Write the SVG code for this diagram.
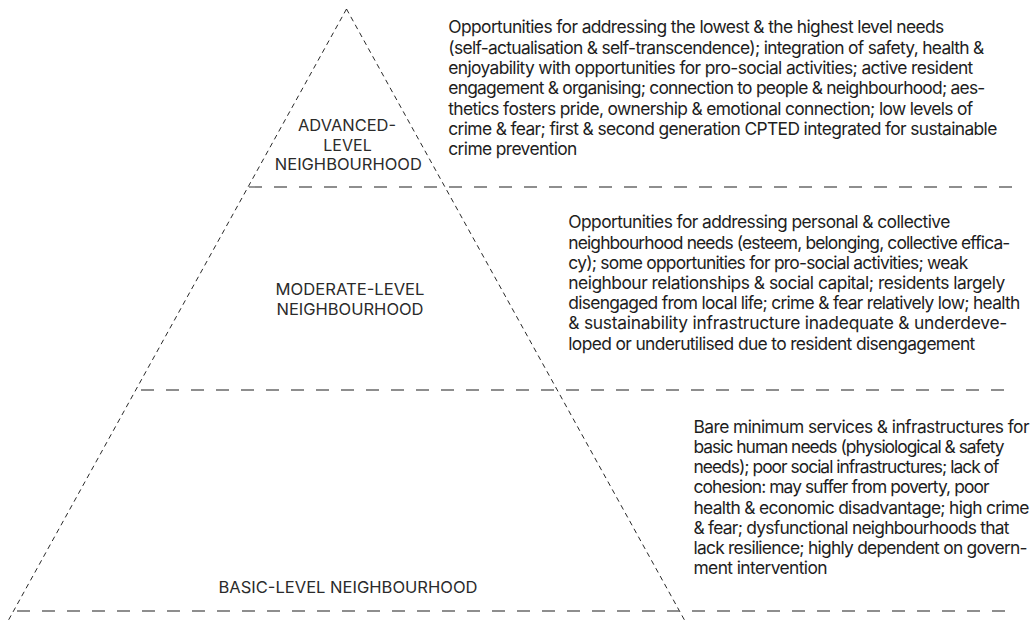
<svg xmlns="http://www.w3.org/2000/svg" width="1033" height="622" viewBox="0 0 1033 622">
<style>
.bg{fill:#ffffff}
.side{fill:none;stroke:#111;stroke-width:0.9;stroke-dasharray:5 4}
.div{fill:none;stroke:#6a6a6a;stroke-width:1.4;stroke-dasharray:13 12}
.lab{font-family:Inter,"Liberation Sans",sans-serif;font-size:16px;fill:#2b2b2b;text-anchor:middle}
.txt{font-family:Inter,"Liberation Sans",sans-serif;font-size:17.4px;fill:#1e1e1e}
</style>
<rect class="bg" x="0" y="0" width="1033" height="622"/>
<g id="connectors">
<path class="side" d="M346.5 9 L8 621"/>
<path class="side" d="M346.5 9 L685 621"/>
<path class="div" d="M249 187 H1013"/>
<path class="div" d="M141 390 H1013"/>
<path class="div" d="M17 611 H1013"/>
</g>
<g id="level-advanced">
<text class="lab" x="347" y="131" textLength="98" lengthAdjust="spacingAndGlyphs">ADVANCED-</text>
<text class="lab" x="347.5" y="150.5">LEVEL</text>
<text class="lab" x="348.3" y="170" textLength="147" lengthAdjust="spacingAndGlyphs">NEIGHBOURHOOD</text>
<text class="txt" x="448.3" y="33.3" textLength="496" lengthAdjust="spacing">Opportunities for addressing the lowest &amp; the highest level needs</text>
<text class="txt" x="448.3" y="53.6" textLength="536" lengthAdjust="spacing">(self-actualisation &amp; self-transcendence); integration of safety, health &amp;</text>
<text class="txt" x="448.3" y="73.9" textLength="525" lengthAdjust="spacing">enjoyability with opportunities for pro-social activities; active resident</text>
<text class="txt" x="448.3" y="94.2" textLength="537" lengthAdjust="spacing">engagement &amp; organising; connection to people &amp; neighbourhood; aes-</text>
<text class="txt" x="448.3" y="114.5" textLength="525" lengthAdjust="spacing">thetics fosters pride, ownership &amp; emotional connection; low levels of</text>
<text class="txt" x="448.3" y="134.8" textLength="549" lengthAdjust="spacing">crime &amp; fear; first &amp; second generation CPTED integrated for sustainable</text>
<text class="txt" x="448.3" y="155.1" textLength="129" lengthAdjust="spacing">crime prevention</text>
</g>
<g id="level-moderate">
<text class="lab" x="350" y="295" textLength="149" lengthAdjust="spacingAndGlyphs">MODERATE-LEVEL</text>
<text class="lab" x="350" y="315" textLength="147" lengthAdjust="spacingAndGlyphs">NEIGHBOURHOOD</text>
<text class="txt" x="568.3" y="228.3" textLength="382" lengthAdjust="spacing">Opportunities for addressing personal &amp; collective</text>
<text class="txt" x="568.3" y="248.5" textLength="442" lengthAdjust="spacing">neighbourhood needs (esteem, belonging, collective effica-</text>
<text class="txt" x="568.3" y="268.7" textLength="400" lengthAdjust="spacing">cy); some opportunities for pro-social activities; weak</text>
<text class="txt" x="568.3" y="288.9" textLength="437" lengthAdjust="spacing">neighbour relationships &amp; social capital; residents largely</text>
<text class="txt" x="568.3" y="309.1" textLength="452" lengthAdjust="spacing">disengaged from local life; crime &amp; fear relatively low; health</text>
<text class="txt" x="568.3" y="329.3" textLength="439" lengthAdjust="spacing">&amp; sustainability infrastructure inadequate &amp; underdeve-</text>
<text class="txt" x="568.3" y="349.5" textLength="407" lengthAdjust="spacing">loped or underutilised due to resident disengagement</text>
</g>
<g id="level-basic">
<text class="lab" x="348" y="593" textLength="259" lengthAdjust="spacingAndGlyphs">BASIC-LEVEL NEIGHBOURHOOD</text>
<text class="txt" x="693.5" y="432.7" textLength="336" lengthAdjust="spacing">Bare minimum services &amp; infrastructures for</text>
<text class="txt" x="693.5" y="452.9" textLength="311" lengthAdjust="spacing">basic human needs (physiological &amp; safety</text>
<text class="txt" x="693.5" y="473.1" textLength="306" lengthAdjust="spacing">needs); poor social infrastructures; lack of</text>
<text class="txt" x="693.5" y="493.3" textLength="296" lengthAdjust="spacing">cohesion: may suffer from poverty, poor</text>
<text class="txt" x="693.5" y="513.5" textLength="336" lengthAdjust="spacing">health &amp; economic disadvantage; high crime</text>
<text class="txt" x="693.5" y="533.7" textLength="316" lengthAdjust="spacing">&amp; fear; dysfunctional neighbourhoods that</text>
<text class="txt" x="693.5" y="553.9" textLength="334" lengthAdjust="spacing">lack resilience; highly dependent on govern-</text>
<text class="txt" x="693.5" y="574.1" textLength="134" lengthAdjust="spacing">ment intervention</text>
</g>
</svg>
